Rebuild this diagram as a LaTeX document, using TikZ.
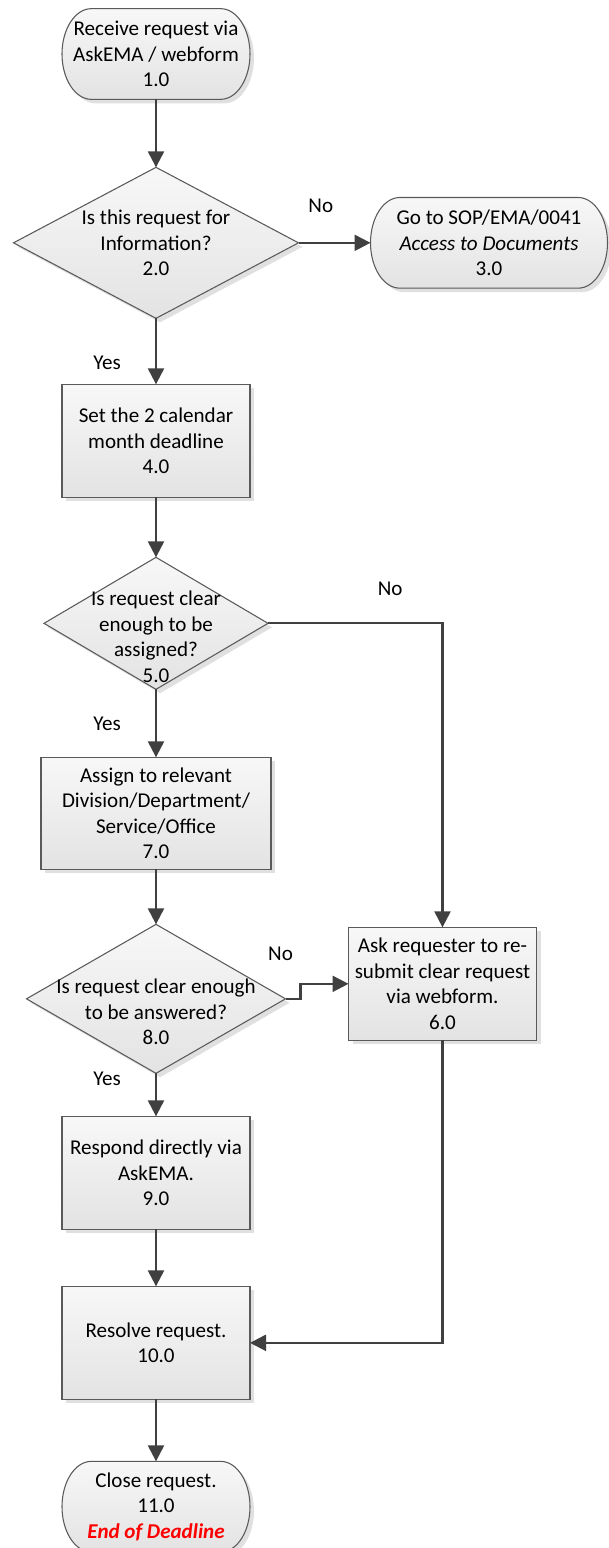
\documentclass[tikz,border=0pt]{standalone}
\usepackage{fontspec}
\setmainfont{Carlito}
\usepackage{xcolor}
\usepackage{tikz}
\usetikzlibrary{arrows.meta,positioning,shapes.geometric,shadows,backgrounds}

\definecolor{connclr}{HTML}{404040}
\definecolor{edgeclr}{HTML}{5A5A5A}

\begin{document}
\begin{tikzpicture}[
  font=\fontsize{15.8pt}{19.1pt}\selectfont,
  boxfill/.style={top color=white!97!black,bottom color=white!89!black,
    drop shadow={shadow xshift=3pt,shadow yshift=-3pt,fill=black!12,opacity=1}},
  box/.style={draw=edgeclr,line width=0.8pt,boxfill,rectangle,align=center,inner sep=0pt,outer sep=0pt,minimum width=141pt,minimum height=84.75pt},
  decision/.style={draw=edgeclr,line width=0.8pt,boxfill,diamond,inner sep=0pt,outer sep=0pt},
  dtext/.style={align=center,inner sep=0pt},
  term/.style={rectangle,align=center,inner sep=0pt,outer sep=0pt,minimum width=141pt,minimum height=68pt},
  termline/.style={draw=edgeclr,line width=0.8pt,boxfill},
  lbl/.style={inner sep=0pt},
  arr/.style={-{Triangle[length=12pt,width=12pt]},line width=1.7pt,draw=connclr}
]
\useasboundingbox (-117pt,40.5pt) rectangle (339pt,-1120.5pt);
\node[term] (recv) {Receive request via\\AskEMA / webform\\1.0};
\node[decision,minimum width=213.75pt,minimum height=113.25pt,below=51pt of recv] (info) {};
\node[dtext] (infotext) at (info) {Is this request for\\Information?\\2.0};
\node[term,minimum width=177.75pt,right=54pt of info] (docs) {Go to SOP/EMA/0041\\\textit{Access to Documents}\\3.0};
\node[box,below=49.5pt of info] (deadline) {Set the 2 calendar\\month deadline\\4.0};
\node[decision,minimum width=168pt,minimum height=99pt,below=45pt of deadline] (clear) {};
\node[dtext] (cleartext) at ([yshift=-10pt]clear.center) {Is request clear\\enough to be\\assigned?\\5.0};
\node[box,minimum width=172.5pt,minimum height=84pt,below=51pt of clear] (assign) {Assign to relevant\\Division/Department/\\Service/Office\\7.0};
\node[decision,minimum width=194.25pt,minimum height=111.75pt,below=41.25pt of assign] (answer) {};
\node[dtext] (answertext) at ([yshift=-10pt]answer.center) {Is request clear enough\\to be answered?\\8.0};
\node[box,right=47.25pt of answer,yshift=11.25pt] (resubmit) {Ask requester to re-\\submit clear request\\via webform.\\6.0};
\node[box,below=32.25pt of answer] (respond) {Respond directly via\\AskEMA.\\9.0};
\node[box,below=42.75pt of respond] (resolve) {Resolve request.\\10.0};
\node[term,below=46.5pt of resolve] (close) {Close request.\\11.0\\\textcolor{red}{\bfseries\itshape End of Deadline}};
% terminator outlines
\begin{scope}[on background layer]
\foreach \t in {recv,docs,close}
  \draw[termline] ([xshift=22pt]\t.north west) -- ([xshift=-22pt]\t.north east)
    arc[start angle=90,end angle=-90,x radius=22pt,y radius=34pt]
    -- ([xshift=22pt]\t.south west)
    arc[start angle=270,end angle=90,x radius=22pt,y radius=34pt] -- cycle;
\end{scope}
\draw[arr] (recv) -- (info);
\draw[arr] (info) -- node[lbl,pos=0.31,yshift=27.75pt] (no1) {No} (docs);
\draw[arr] (info) -- node[lbl,pos=0.67,xshift=-36.75pt] (yes1) {Yes} (deadline);
\draw[arr] (deadline) -- (clear);
\draw[arr] (clear) -| node[lbl,pos=0.35,yshift=26.25pt] (no2) {No} (resubmit);
\draw[arr] (clear) -- node[lbl,pos=0.5,xshift=-36.75pt] (yes2) {Yes} (assign);
\draw[arr] (assign) -- (answer);
\draw[arr] (answer.east) node[lbl,xshift=-3.75pt,yshift=33.4pt] (no3) {No} -- ++(11.25pt,0) |- (resubmit.west);
\draw[arr] (answer) -- node[lbl,pos=0.12,xshift=-36.75pt] (yes3) {Yes} (respond);
\draw[arr] (respond) -- (resolve);
\draw[arr] (resubmit) |- (resolve);
\draw[arr] (resolve) -- (close);
\end{tikzpicture}
\end{document}
